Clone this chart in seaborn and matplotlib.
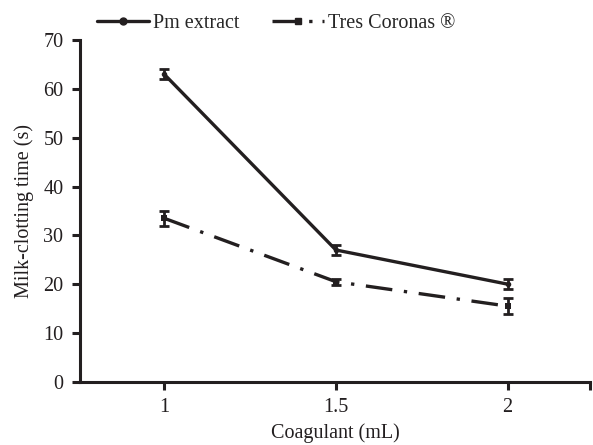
import numpy as np
import pandas as pd
import seaborn as sns
import matplotlib.pyplot as plt
from matplotlib.lines import Line2D

# data
doses = ["1", "1.5", "2"]
pm_time = [63, 27, 20]
pm_err = [1.0, 1.0, 1.0]
tc_time = [33.5, 20.5, 15.5]
tc_err = [1.5, 0.6, 1.6]

sns.set_theme(style="ticks")
plt.rcParams['font.family'] = ['Liberation Serif', 'DejaVu Serif']
FS = 14.5
INK = "#231f20"

df = pd.DataFrame({
    "pos": list(range(len(doses))) * 2,
    "time": pm_time + tc_time,
    "series": ["Pm extract"] * 3 + ["Tres Coronas ®"] * 3,
})

fig = plt.figure(figsize=(5.93, 4.45), dpi=100)
ax = fig.add_axes([0.135, 0.142, 0.860, 0.768])

dashdot = (0, (8, 3.5, 1, 3.5))
sns.lineplot(data=df[df.series == "Pm extract"], x="pos", y="time", ax=ax,
             color=INK, lw=2.4, marker="o", markersize=4, markeredgewidth=0, legend=False)
sns.lineplot(data=df[df.series == "Tres Coronas ®"], x="pos", y="time", ax=ax,
             color=INK, lw=2.4, linestyle=dashdot, marker="s", markersize=4,
             markeredgewidth=0, legend=False)
ax.errorbar(range(3), pm_time, yerr=pm_err, fmt="none", ecolor=INK, elinewidth=2, capsize=3.5, capthick=2)
ax.errorbar(range(3), tc_time, yerr=tc_err, fmt="none", ecolor=INK, elinewidth=2, capsize=3.5, capthick=2)

ax.set_xlim(-0.49, 2.48)
ax.set_ylim(0, 70)
ax.set_yticks(range(0, 71, 10))
ax.set_xticks(range(3))
ax.set_xticklabels(doses)
ax.set_xticks([2.48], minor=True)
sns.despine(ax=ax)
for s in ["left", "bottom"]:
    ax.spines[s].set_linewidth(2.2)
    ax.spines[s].set_color(INK)
ax.tick_params(axis="both", which="both", width=2.2, length=6, color=INK,
               labelsize=FS, labelcolor=INK)
ax.tick_params(axis="y", pad=6)
ax.tick_params(axis="x", pad=6)
ax.set_xlabel("Coagulant (mL)", fontsize=FS, color=INK, labelpad=4)
ax.set_ylabel("Milk-clotting time (s)", fontsize=FS, color=INK, labelpad=7)

handles = [
    Line2D([], [], color=INK, lw=2.4, marker="o", markersize=5),
    Line2D([], [], color=INK, lw=2.4, linestyle=(0, (8, 3, 1, 3)), marker="s", markersize=5),
]
fig.legend(handles, ["Pm extract", "Tres Coronas ®"], loc="center left",
           bbox_to_anchor=(0.15, 0.948), ncol=2, frameon=False, fontsize=FS,
           handlelength=2.6, handletextpad=0.2, columnspacing=1.6, borderaxespad=0)

fig.savefig("out.png", dpi=100)
